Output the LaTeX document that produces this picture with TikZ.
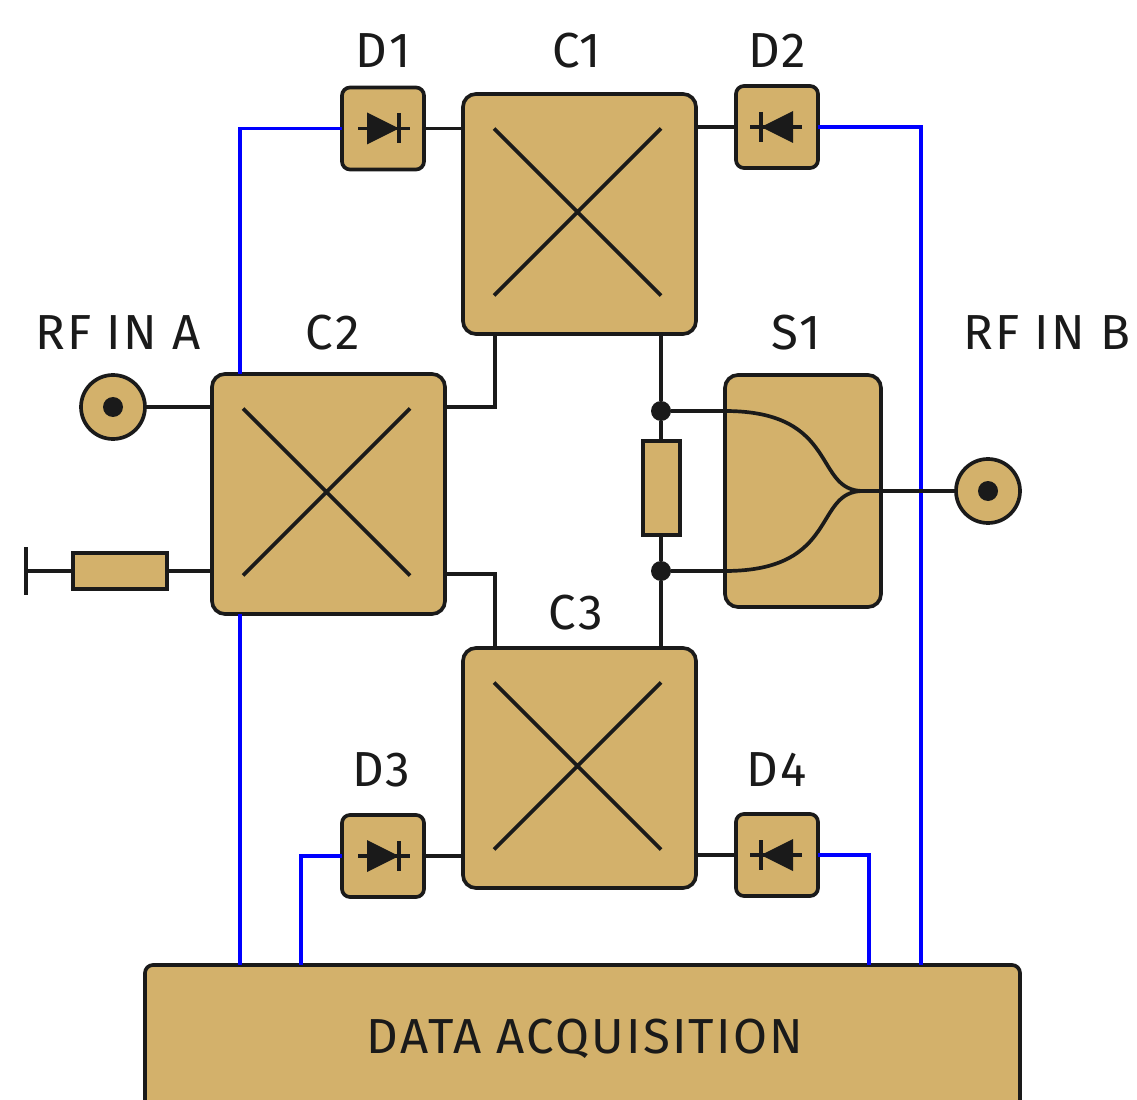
\documentclass[tikz,border=0pt]{standalone}
\usepackage{fontspec}
\setmainfont[LetterSpace=4.5]{Fira Sans}
\usetikzlibrary{positioning,calc}
\definecolor{tan}{HTML}{D3B16B}
\definecolor{wire}{HTML}{1A1A1A}

\begin{document}
\begin{tikzpicture}[
  line width=1.05pt,
  part/.style={rectangle, draw=wire, fill=tan, rounded corners=.13cm, outer sep=0pt,
               inner sep=0pt},
  coupler/.style={part, minimum width=2.33cm, minimum height=2.40cm},
  detbox/.style={part, rounded corners=.08cm, minimum size=.82cm},
  res/.style={rectangle, draw=wire, fill=tan, outer sep=0pt, inner sep=0pt},
  port/.style={circle, draw=wire, fill=tan, minimum size=.64cm, outer sep=0pt, inner sep=0pt},
  pin/.style={circle, fill=wire, minimum size=.20cm, outer sep=0pt, inner sep=0pt},
  lbl/.style={inner sep=0pt, text height=.34cm, text depth=0pt, text=wire,
              font=\fontsize{14}{16}\selectfont},
  sig/.style={draw=blue},
  net/.style={draw=wire}
]
  \path[use as bounding box, clip] (0,0) rectangle (11.37,-11);

  \node[coupler] (c1) at (5.795,-2.14) {};
  \node[coupler, below left=.40cm and .18cm of c1] (c2) {};
  \node[coupler, below=3.14cm of c1] (c3) {};
  \node[part, minimum width=1.56cm, minimum height=2.32cm,
        below right=.41cm and .29cm of c1] (s1) {};
  \node[detbox, left=.39cm of c1, yshift=.855cm] (d1) {};
  \node[detbox, right=.40cm of c1, yshift=.87cm] (d2) {};
  \node[detbox, left=.39cm of c3, yshift=-.88cm] (d3) {};
  \node[detbox, right=.40cm of c3, yshift=-.87cm] (d4) {};
  \node[part, rounded corners=.08cm, minimum width=8.75cm, minimum height=1.55cm,
        below=.77cm of c3, xshift=.03cm] (daq) {};
  \node[res, minimum width=.37cm, minimum height=.94cm,
        left=.45cm of s1, yshift=.03cm] (r1) {};
  \node[res, minimum width=.94cm, minimum height=.36cm,
        left=.45cm of c2, yshift=-.77cm] (r2) {};
  \node[port, left=.67cm of c2, yshift=.87cm] (pa) {};
  \node[port, right=.75cm of s1] (pb) {};
  \node[pin] (pa0) at (pa) {};
  \node[pin] (pb0) at (pb) {};

  % couplers
  \foreach \c in {c1,c2,c3}
    \draw[net] ($(\c)+(-.855,.855)$) -- ($(\c)+(.815,-.815)$)
               ($(\c)+(-.855,-.815)$) -- ($(\c)+(.815,.855)$);

  % diodes
  \foreach \d/\s in {d1/1,d2/-1,d3/1,d4/-1} {
    \draw[net] ($(\d)+(-.25*\s,0)$) -- ($(\d)+(.27*\s,0)$);
    \fill[wire] ($(\d)+(-.16*\s,.16)$) -- ($(\d)+(.16*\s,0)$) -- ($(\d)+(-.16*\s,-.16)$) -- cycle;
    \draw[net] ($(\d)+(.16*\s,.15)$) -- ($(\d)+(.16*\s,-.15)$);
  }

  % bias lines
  \coordinate (ca) at ($(c2.north west)+(.28,0)$);
  \coordinate (cb) at ($(c2.south west)+(.28,0)$);
  \draw[sig] (d1.west) -| (ca);
  \draw[sig] (cb) -- (cb |- daq.north);
  \draw[sig] (d3.west) -| ($(daq.north west)+(1.56,0)$);
  \draw[sig] (d4.east) -| ($(daq.north west)+(7.24,0)$);
  \draw[sig] (d2.east) -| ($(daq.north west)+(7.76,0)$);

  % rf lines
  \coordinate (c1a) at ($(c1.south west)+(.32,0)$);
  \coordinate (c1b) at ($(c1.south west)+(1.98,0)$);
  \coordinate (c3a) at ($(c3.north west)+(.32,0)$);
  \coordinate (c3b) at ($(c3.north west)+(1.98,0)$);
  \coordinate (c2a) at ($(c2.north east)+(0,-.33)$);
  \coordinate (c2b) at ($(c2.south east)+(0,.40)$);
  \coordinate (st) at ($(s1.north west)+(0,-.36)$);
  \coordinate (sb) at ($(s1.south west)+(0,.36)$);
  \coordinate (sm) at ($(s1)+(.60,0)$);
  \node[pin] (j1) at (c1b |- st) {};
  \node[pin] (j2) at (c1b |- sb) {};

  \draw[net] (d1.east) -- (d1.east -| c1.west);
  \draw[net] (d2.west) -- (d2.west -| c1.east);
  \draw[net] (d3.east) -- (d3.east -| c3.west);
  \draw[net] (d4.west) -- (d4.west -| c3.east);
  \draw[net] (c1a) |- (c2a);
  \draw[net] (c2b) -| (c3a);
  \draw[net] (c1b) -- (j1);
  \draw[net] (j1) -- (j1 |- r1.north);
  \draw[net] (j2 |- r1.south) -- (j2);
  \draw[net] (j2) -- (c3b);
  \draw[net] (j1) -- (st) .. controls ($(st)+(1.15,0)$) and ($(sm)+(-.50,0)$) .. (sm);
  \draw[net] (j2) -- (sb) .. controls ($(sb)+(1.15,0)$) and ($(sm)+(-.50,0)$) .. (sm);
  \draw[net] (sm) -- (pb.west);
  \draw[net] (pa.east) -- (pa -| c2.west);
  \draw[net] (r2.east) -- (r2 -| c2.west);
  \coordinate (gnd) at ($(r2.west)+(-.47,0)$);
  \draw[net] (r2.west) -- (gnd);
  \draw[net] ($(gnd)+(0,.24)$) -- ($(gnd)+(0,-.24)$);

  % labels
  \node[lbl, above=.18cm of d1] (ld1) {D1};
  \node[lbl, above=.25cm of c1, xshift=-.03cm] (lc1) {C1};
  \node[lbl, above=.17cm of d2] (ld2) {D2};
  \node[lbl, above=.23cm of c2, xshift=.04cm] (lc2) {C2};
  \node[lbl, above=.24cm of s1, xshift=-.07cm] (ls1) {S1};
  \node[lbl, above=.17cm of c3, xshift=-.04cm] (lc3) {C3};
  \node[lbl, above=.27cm of d3, xshift=-.02cm] (ld3) {D3};
  \node[lbl, above=.26cm of d4] (ld4) {D4};
  \node[lbl, above=.24cm of pa, xshift=.05cm] (lpa) {RF IN A};
  \node[lbl, above=1.08cm of pb, xshift=.59cm] (lpb) {RF IN B};
  \node[lbl] (ldaq) at ($(daq)+(.025,.06)$) {DATA ACQUISITION};
\end{tikzpicture}
\end{document}
